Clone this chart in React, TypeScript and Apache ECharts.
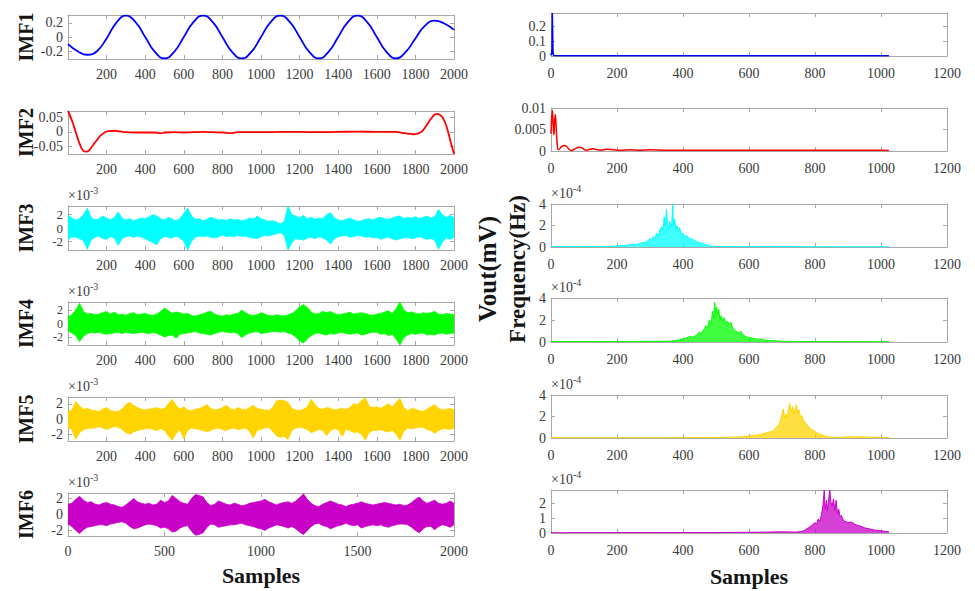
import React, { useEffect, useRef } from "react";
import * as echarts from "echarts";

// ---------------- DATA ----------------
// Left column: time-domain IMFs over samples 0..2000
const IMF1_STEP = 50;
const imf1 = [
  -0.1, -0.2, -0.25, -0.2, -0.02, 0.2, 0.3, 0.21, 0.0, -0.21,
  -0.3, -0.21, 0.0, 0.21, 0.3, 0.21, 0.0, -0.21, -0.3, -0.21,
  0.0, 0.21, 0.3, 0.21, 0.0, -0.21, -0.3, -0.21, 0.0, 0.21,
  0.3, 0.21, 0.0, -0.21, -0.3, -0.21, -0.02, 0.16, 0.23, 0.19,
  0.1,
];

const imf2: [number, number][] = [
  [0, 0.072], [20, 0.04], [40, 0.0], [60, -0.04], [80, -0.065], [95, -0.068], [110, -0.063],
  [130, -0.045], [150, -0.028], [170, -0.012], [190, -0.002], [210, 0.003], [240, 0.004],
  [270, 0.002], [300, -0.001], [350, -0.002], [400, -0.002], [450, -0.002], [480, -0.005],
  [500, -0.002], [550, -0.001], [600, -0.002], [650, -0.001], [700, 0.0], [750, -0.001],
  [800, -0.002], [850, -0.004], [880, -0.001], [950, -0.001], [1000, -0.001], [1100, 0.0],
  [1200, 0.0], [1300, -0.001], [1400, 0.0], [1500, 0.001], [1600, 0.0], [1700, 0.0],
  [1730, -0.003], [1760, -0.006], [1790, -0.008], [1810, -0.006], [1830, 0.0], [1850, 0.015],
  [1870, 0.035], [1890, 0.053], [1910, 0.062], [1925, 0.06], [1945, 0.045], [1965, 0.01],
  [1985, -0.04], [2000, -0.076],
];

// Envelopes (x10^-3) of the dense IMF3..IMF6 signals, one value every 20 samples
const ENV_STEP = 20;
const imf3Upper = [
  2.0, 1.5, 1.2, 1.4, 2.0, 3.0, 1.6, 1.2, 1.4, 1.8,
  1.5, 1.2, 1.6, 2.4, 1.5, 1.2, 1.4, 1.1, 1.3, 1.5,
  1.4, 1.7, 2.0, 1.8, 1.4, 1.2, 1.6, 1.3, 1.1, 1.4,
  2.2, 3.0, 1.8, 1.3, 1.4, 1.1, 1.3, 1.6, 1.4, 1.2,
  1.3, 1.1, 1.4, 1.2, 1.3, 1.1, 1.2, 1.5, 1.3, 1.8,
  1.4, 1.2, 1.0, 1.1, 0.9, 0.6, 1.0, 3.3, 2.0, 1.8,
  1.5, 1.9, 1.4, 1.6, 1.3, 1.5, 1.4, 2.0, 2.3, 1.5,
  1.2, 1.1, 1.3, 1.5, 1.2, 1.0, 1.1, 1.3, 1.4, 1.2,
  1.5, 1.6, 1.4, 1.3, 1.5, 1.7, 1.8, 1.4, 1.6, 1.5,
  1.7, 1.4, 1.6, 1.8, 1.5, 1.7, 2.8, 2.0, 1.6, 1.9,
  1.5,
];
const imf3Lower = [
  -1.8, -1.3, -1.4, -1.6, -1.9, -3.2, -1.8, -1.4, -1.2, -1.6,
  -1.7, -1.3, -1.5, -2.6, -1.6, -1.3, -1.2, -1.4, -1.2, -1.4,
  -1.6, -1.9, -2.2, -2.5, -1.6, -1.3, -1.4, -1.5, -1.2, -1.5,
  -2.0, -3.3, -2.0, -1.4, -1.2, -1.3, -1.2, -1.4, -1.5, -1.3,
  -1.1, -1.3, -1.2, -1.3, -1.1, -1.3, -1.2, -1.4, -1.5, -1.6,
  -1.3, -1.1, -1.2, -1.0, -0.9, -0.7, -1.1, -3.3, -2.2, -1.6,
  -1.7, -1.8, -1.5, -1.4, -1.6, -1.3, -1.5, -1.8, -2.4, -1.6,
  -1.3, -1.2, -1.1, -1.4, -1.3, -1.1, -1.2, -1.4, -1.3, -1.5,
  -1.4, -1.7, -1.5, -1.4, -1.6, -1.8, -1.6, -1.5, -1.4, -1.6,
  -1.5, -1.3, -1.5, -1.7, -1.6, -1.8, -3.2, -2.1, -1.5, -1.7,
  -1.4,
];
const imf4Upper = [
  1.0, 1.3, 2.0, 3.0, 1.8, 1.4, 1.5, 1.3, 1.4, 1.6,
  1.8, 1.4, 1.7, 1.3, 1.4, 1.2, 1.5, 1.6, 1.3, 1.4,
  1.5, 1.3, 1.2, 1.4, 1.8, 2.3, 1.9, 1.5, 1.7, 1.6,
  1.4, 1.5, 1.2, 1.1, 1.3, 1.4, 1.7, 1.8, 1.4, 1.2,
  1.1, 1.3, 1.2, 1.4, 1.5, 2.0, 1.6, 1.3, 1.2, 1.3,
  1.6, 1.4, 1.2, 1.1, 1.3, 1.2, 1.1, 1.3, 1.5, 1.9,
  2.5, 2.8, 2.4, 1.7, 1.4, 1.5, 1.8, 1.6, 1.8, 1.5,
  1.3, 1.4, 1.5, 1.7, 1.4, 1.5, 1.6, 1.5, 1.3, 1.2,
  1.4, 1.5, 1.7, 1.9, 1.5, 2.2, 3.2, 2.0, 1.6, 1.7,
  1.5, 1.4, 1.6, 1.5, 1.6, 1.8, 1.4, 1.3, 1.5, 1.4,
  1.3,
];
const imf4Lower = [
  -1.1, -1.4, -1.8, -2.7, -1.9, -1.5, -1.3, -1.4, -1.3, -1.5,
  -1.6, -1.5, -1.4, -1.3, -1.5, -1.3, -1.4, -1.5, -1.4, -1.3,
  -1.4, -1.5, -1.3, -1.5, -1.7, -2.0, -1.8, -1.7, -2.2, -1.6,
  -1.5, -1.4, -1.3, -1.2, -1.4, -1.5, -1.6, -1.7, -1.5, -1.3,
  -1.2, -1.3, -1.4, -1.3, -1.5, -2.1, -1.7, -1.4, -1.3, -1.2,
  -1.5, -1.4, -1.3, -1.2, -1.2, -1.3, -1.2, -1.4, -1.6, -2.0,
  -2.6, -2.9, -2.3, -1.8, -1.5, -1.4, -1.6, -1.7, -1.5, -1.6,
  -1.4, -1.3, -1.5, -1.6, -1.5, -1.4, -1.7, -1.6, -1.4, -1.3,
  -1.3, -1.6, -1.5, -1.8, -1.6, -2.3, -3.2, -2.1, -1.7, -1.5,
  -1.6, -1.5, -1.4, -1.7, -1.6, -1.7, -1.5, -1.4, -1.6, -1.5,
  -1.4,
];
const imf5Upper = [
  1.0, 1.2, 2.3, 1.7, 1.3, 1.4, 1.2, 1.1, 1.0, 1.3,
  1.5, 1.1, 1.0, 1.0, 1.3, 1.9, 2.2, 1.8, 1.5, 1.3,
  1.2, 1.3, 1.4, 1.5, 1.3, 1.4, 2.0, 2.6, 1.8, 1.3,
  1.6, 1.2, 1.1, 1.3, 1.4, 1.6, 1.9, 1.4, 1.2, 1.3,
  1.5, 1.8, 1.4, 1.2, 1.5, 1.3, 1.2, 1.5, 1.8, 1.4,
  1.3, 1.2, 1.1, 1.5, 2.4, 2.5, 2.4, 2.2, 1.4, 1.2,
  1.1, 1.3, 1.6, 2.6, 1.9, 1.4, 1.3, 1.5, 1.4, 1.2,
  1.3, 1.4, 1.3, 1.5, 2.0, 1.9, 2.4, 2.8, 1.7, 1.5,
  1.6, 1.4, 1.7, 2.0, 1.6, 2.2, 2.7, 1.5, 1.1, 1.4,
  1.3, 1.1, 1.0, 1.3, 1.6, 1.9, 1.4, 1.2, 1.3, 1.4,
  1.2,
];
const imf5Lower = [
  -1.1, -1.4, -2.7, -1.8, -1.4, -1.3, -1.2, -1.2, -1.0, -1.2,
  -1.4, -1.2, -1.0, -1.1, -1.4, -1.8, -2.0, -1.7, -1.5, -1.4,
  -1.3, -1.2, -1.4, -1.5, -1.3, -1.5, -2.2, -2.8, -1.9, -1.4,
  -2.6, -1.5, -1.2, -1.3, -1.4, -1.5, -1.7, -1.5, -1.3, -1.2,
  -1.4, -1.5, -1.3, -1.2, -1.4, -1.3, -1.2, -1.6, -2.5, -1.5,
  -1.4, -1.2, -1.1, -1.6, -2.2, -2.4, -2.3, -2.7, -1.5, -1.2,
  -1.1, -1.2, -1.4, -1.8, -1.6, -1.4, -1.5, -2.2, -1.5, -1.3,
  -1.4, -2.3, -1.4, -1.5, -1.8, -1.7, -2.0, -2.8, -1.8, -1.5,
  -1.5, -1.4, -1.6, -1.7, -1.5, -2.0, -2.8, -1.6, -1.2, -1.3,
  -1.2, -1.1, -1.1, -1.4, -1.5, -1.9, -1.5, -1.3, -1.3, -1.4,
  -1.2,
];
const imf6Upper = [
  1.3, 1.4, 1.9, 2.3, 1.8, 1.5, 1.6, 1.3, 1.2, 1.4,
  1.5, 1.3, 1.2, 1.0, 0.9, 1.2, 1.6, 2.0, 1.6, 1.4,
  1.3, 1.4, 1.2, 1.3, 1.8, 1.5, 1.7, 2.4, 2.0, 1.6,
  1.4, 1.3, 2.0, 2.5, 2.4, 2.2, 1.5, 1.1, 1.3, 1.7,
  1.5, 1.3, 1.2, 1.4, 1.3, 1.1, 1.2, 1.4, 1.5, 1.6,
  1.7, 1.9, 1.6, 1.4, 1.2, 1.4, 1.5, 1.6, 1.4, 1.7,
  2.1, 2.6, 1.9, 1.4, 1.1, 1.0, 1.3, 1.5, 1.7, 1.5,
  1.3, 1.2, 1.0, 1.2, 1.3, 1.4, 1.6, 1.4, 1.3, 1.2,
  1.3, 1.4, 1.5, 1.4, 1.3, 1.2, 1.3, 1.1, 1.2, 1.5,
  1.9, 2.2, 1.7, 1.4, 1.6, 1.8, 1.4, 1.3, 1.4, 1.7,
  1.4,
];
const imf6Lower = [
  -1.2, -1.5, -2.0, -2.4, -1.9, -1.6, -1.5, -1.4, -1.3, -1.3,
  -1.4, -1.2, -1.1, -1.0, -0.9, -1.1, -1.5, -1.8, -1.7, -1.5,
  -1.3, -1.2, -1.3, -1.4, -1.7, -1.6, -1.8, -2.2, -2.1, -1.7,
  -1.5, -1.4, -2.1, -2.6, -2.5, -2.3, -1.6, -1.2, -1.3, -1.6,
  -1.5, -1.4, -1.3, -1.3, -1.2, -1.1, -1.3, -1.4, -1.5, -1.7,
  -1.8, -2.0, -1.7, -1.5, -1.3, -1.4, -1.5, -1.7, -1.5, -1.8,
  -2.2, -2.5, -2.0, -1.5, -1.2, -1.1, -1.4, -1.5, -1.8, -1.6,
  -1.4, -1.3, -1.1, -1.3, -1.4, -1.3, -1.7, -1.5, -1.4, -1.3,
  -1.4, -1.3, -1.5, -1.6, -1.4, -1.3, -1.2, -1.2, -1.3, -1.6,
  -2.0, -2.3, -1.8, -1.5, -1.5, -1.9, -1.5, -1.3, -1.4, -1.6,
  -1.3,
];

// Right column: spectra over 0..1024
const spec1: [number, number][] = [
  [0, 0.004], [1, 0.02], [2, 0.01], [3, 0.05], [4, 0.29], [5, 0.29], [6, 0.04], [7, 0.01],
  [9, 0.003], [20, 0.002], [100, 0.001], [1024, 0.001],
];
const spec2: [number, number][] = [
  [0, 0.004], [2, 0.0075], [4, 0.0095], [6, 0.007], [8, 0.0045], [9, 0.0038], [11, 0.007],
  [13, 0.0085], [15, 0.0065], [18, 0.0025], [22, 0.0003], [27, 0.0006], [33, 0.0011],
  [40, 0.0013], [47, 0.0011], [55, 0.0004], [62, 0.0001], [70, 0.0004], [80, 0.0008],
  [88, 0.0009], [96, 0.0006], [105, 0.0002], [115, 0.0003], [125, 0.0005], [135, 0.0004],
  [150, 0.0002], [170, 0.0004], [190, 0.0003], [210, 0.0002], [240, 0.0003], [270, 0.0002],
  [300, 0.0003], [350, 0.0002], [400, 0.0002], [500, 0.0002], [600, 0.00015], [700, 0.0002],
  [800, 0.00015], [900, 0.0002], [1000, 0.00015], [1024, 0.0001],
];
const spec3: [number, number][] = [
  [0, 0.05], [100, 0.05], [180, 0.06], [200, 0.1], [220, 0.12], [240, 0.2], [250, 0.25],
  [260, 0.22], [270, 0.35], [280, 0.4], [290, 0.5], [300, 0.8], [305, 0.6], [310, 1.0],
  [315, 0.8], [320, 1.3], [325, 1.0], [330, 1.6], [335, 1.9], [340, 1.5], [343, 2.8],
  [346, 2.0], [350, 3.5], [353, 2.2], [356, 1.6], [360, 2.4], [363, 1.8], [366, 2.2],
  [369, 4.0], [371, 2.0], [375, 2.6], [378, 1.6], [382, 2.0], [386, 1.4], [390, 1.8],
  [395, 1.1], [400, 1.3], [405, 0.9], [410, 1.1], [420, 0.8], [430, 0.7], [440, 0.5],
  [450, 0.4], [460, 0.35], [470, 0.2], [480, 0.1], [500, 0.05], [600, 0.03], [1024, 0.02],
];
const spec4: [number, number][] = [
  [0, 0.04], [200, 0.05], [350, 0.06], [370, 0.1], [390, 0.2], [400, 0.3], [410, 0.35],
  [420, 0.5], [430, 0.45], [440, 0.6], [450, 0.9], [455, 0.7], [460, 1.0], [465, 1.2],
  [470, 1.5], [475, 1.3], [480, 2.0], [485, 1.7], [490, 2.8], [493, 2.2], [496, 3.6],
  [499, 2.6], [502, 3.2], [505, 2.4], [508, 3.0], [512, 2.0], [516, 2.4], [520, 1.9],
  [525, 2.2], [530, 1.7], [535, 1.9], [540, 1.6], [545, 1.8], [550, 1.3], [555, 1.1],
  [560, 1.0], [570, 0.8], [575, 1.0], [580, 0.7], [590, 0.5], [600, 0.4], [620, 0.3],
  [640, 0.2], [660, 0.15], [700, 0.06], [800, 0.04], [1024, 0.03],
];
const spec5: [number, number][] = [
  [0, 0.03], [300, 0.03], [500, 0.04], [550, 0.08], [580, 0.12], [600, 0.18], [620, 0.25],
  [640, 0.35], [660, 0.55], [670, 0.6], [680, 0.9], [690, 1.2], [695, 1.6], [700, 2.2],
  [704, 2.7], [708, 1.8], [712, 2.2], [716, 1.9], [720, 2.8], [724, 3.2], [728, 2.4],
  [732, 2.9], [736, 2.2], [740, 2.7], [744, 3.1], [748, 2.3], [752, 2.6], [756, 1.9],
  [760, 2.1], [765, 1.6], [770, 1.5], [775, 1.2], [780, 1.1], [790, 0.8], [800, 0.6],
  [810, 0.4], [820, 0.3], [830, 0.18], [840, 0.1], [860, 0.05], [880, 0.06], [900, 0.12],
  [920, 0.1], [940, 0.12], [960, 0.08], [1000, 0.06], [1024, 0.05],
];
const spec6: [number, number][] = [
  [0, 0.02], [300, 0.03], [500, 0.03], [600, 0.05], [650, 0.06], [700, 0.08], [740, 0.06],
  [760, 0.1], [770, 0.2], [780, 0.35], [790, 0.5], [800, 0.7], [805, 0.6], [810, 0.95],
  [815, 0.8], [820, 1.3], [824, 1.8], [828, 2.9], [831, 1.6], [835, 2.2], [838, 1.5],
  [842, 2.4], [845, 2.9], [848, 2.1], [852, 1.8], [856, 2.3], [860, 1.5], [864, 2.2],
  [868, 1.3], [872, 1.6], [876, 1.1], [880, 1.2], [885, 0.9], [890, 0.8], [900, 0.7],
  [910, 0.75], [920, 0.6], [930, 0.5], [940, 0.45], [950, 0.35], [960, 0.3], [970, 0.25],
  [980, 0.2], [1000, 0.15], [1010, 0.12], [1024, 0.08],
];

// Tick labels
const leftXTicks = [200, 400, 600, 800, 1000, 1200, 1400, 1600, 1800, 2000];
const leftBottomXTicks = [0, 500, 1000, 1500, 2000];
const rightXTicks = [0, 200, 400, 600, 800, 1000, 1200];
const imfNames = ["IMF1", "IMF2", "IMF3", "IMF4", "IMF5", "IMF6"];
const leftYTicks = [[-0.2, 0, 0.2], [-0.05, 0, 0.05], [-2, 0, 2], [-2, 0, 2], [-2, 0, 2], [-2, 0, 2]];
const leftYRange = [[-0.31, 0.31], [-0.076, 0.072], [-3.3, 3.3], [-3.2, 3.2], [-2.9, 2.9], [-2.7, 2.7]];
const rightYTicks = [[0, 0.1, 0.2], [0, 0.005, 0.01], [0, 2, 4], [0, 2, 4], [0, 2, 4], [0, 1, 2]];
const rightYRange = [[0, 0.29], [0, 0.01], [0, 4], [0, 4], [0, 4], [0, 2.9]];
const leftExp = ["", "", "-3", "-3", "-3", "-3"];
const rightExp = ["", "", "-4", "-4", "-4", "-4"];
const colors = ["#0000ff", "#ff0000", "#00ffff", "#00ff00", "#ffd400", "#c800c8"];

// ---------------- LAYOUT ----------------
const LEFT_X = 68;
const LEFT_W = 386;
const RIGHT_X = 551;
const RIGHT_W = 396;
const leftTops = [15, 111, 206, 302, 397, 493];
const leftHeights = [44, 43, 44, 43, 44, 43];
const rightTops = [13, 108, 204, 298, 395, 490];
const rightHeights = [43, 43, 43, 44, 43, 43];
const leftYFont = [14, 14, 13, 12, 14, 14];

const FONT = "'Liberation Serif', 'Times New Roman', serif";
const AXIS_COLOR = "#a8a8a8";
const LABEL_COLOR = "#3a3a3a";
const TITLE_COLOR = "#151515";

const fmt = (v: number) => String(+Number(v).toFixed(6));

function buildOption() {
  const grid: any[] = [];
  const xAxis: any[] = [];
  const yAxis: any[] = [];
  const series: any[] = [];
  const graphic: any[] = [];

  // returns [xAxisIndex, yAxisIndex] of the axes the series should use
  const addPanel = (
    left: number, top: number, width: number, height: number,
    xMin: number, xMax: number, xTicks: number[], xMargin: number,
    yMin: number, yMax: number, yTicks: number[], exp: string, yFont: number,
  ): [number, number] => {
    const gi = grid.length;
    grid.push({ left, top, width, height, containLabel: false, show: false });
    const lineStyle = { color: AXIS_COLOR, width: 1 };
    const yLabelStyle = {
      show: true, color: LABEL_COLOR, fontFamily: FONT, fontSize: yFont, lineHeight: 11, margin: 5,
      formatter: fmt, hideOverlap: false, showMinLabel: true, showMaxLabel: true,
    };
    const baseX = {
      type: "value", gridIndex: gi, min: xMin, max: xMax,
      splitLine: { show: false },
      axisLine: { show: true, onZero: false, lineStyle },
    };
    const xi = xAxis.length;
    xAxis.push({
      ...baseX, position: "bottom",
      axisTick: { show: true, inside: true, length: 4, lineStyle, customValues: xTicks },
      axisLabel: {
        show: true, customValues: xTicks, color: LABEL_COLOR, fontFamily: FONT,
        fontSize: 14, margin: xMargin, formatter: fmt, hideOverlap: false,
        showMinLabel: true, showMaxLabel: true,
      },
    });
    xAxis.push({
      ...baseX, position: "top",
      axisTick: { show: true, inside: true, length: 4, lineStyle, customValues: xTicks },
      axisLabel: { show: false },
    });
    const baseY = {
      type: "value", gridIndex: gi, min: yMin, max: yMax,
      splitLine: { show: false },
      axisLine: { show: true, onZero: false, lineStyle },
      axisTick: { show: true, inside: true, length: 4, lineStyle, customValues: yTicks },
    };
    const yi = yAxis.length;
    // outer tick labels on the main left axis
    yAxis.push({
      ...baseY, position: "left",
      axisLabel: { ...yLabelStyle, customValues: [yTicks[0], yTicks[yTicks.length - 1]] },
      ...(exp
        ? {
            name: `{b|×10}{s|${exp}}`,
            nameLocation: "end",
            nameGap: 1,
            nameTextStyle: {
              align: "left",
              verticalAlign: "bottom",
              rich: {
                b: { fontSize: 14, fontFamily: FONT, color: LABEL_COLOR, lineHeight: 20 },
                s: { fontSize: 10, fontFamily: FONT, color: LABEL_COLOR, lineHeight: 10, verticalAlign: "top" },
              },
            },
          }
        : {}),
    });
    // middle tick label on an overlaid axis (the panels are too short for the library
    // to keep three labels on one axis)
    yAxis.push({
      type: "value", gridIndex: gi, min: yMin, max: yMax, position: "left",
      splitLine: { show: false }, axisLine: { show: false }, axisTick: { show: false },
      axisLabel: { ...yLabelStyle, customValues: yTicks.slice(1, yTicks.length - 1) },
    });
    yAxis.push({ ...baseY, position: "right", axisLabel: { show: false } });
    return [xi, yi];
  };

  const imf1Data = imf1.map((v, i) => [i * IMF1_STEP, v]);
  const bands: [number[], number[]][] = [
    [imf3Upper, imf3Lower], [imf4Upper, imf4Lower], [imf5Upper, imf5Lower], [imf6Upper, imf6Lower],
  ];
  const spectra = [spec1, spec2, spec3, spec4, spec5, spec6];

  for (let k = 0; k < 6; k++) {
    const isBottom = k === 5;
    const [xi, yi] = addPanel(
      LEFT_X, leftTops[k], LEFT_W, leftHeights[k],
      0, 2000, isBottom ? leftBottomXTicks : leftXTicks, 8,
      leftYRange[k][0], leftYRange[k][1], leftYTicks[k], leftExp[k], leftYFont[k],
    );
    const axisRef = { xAxisIndex: xi, yAxisIndex: yi };
    if (k === 0 || k === 1) {
      series.push({
        type: "line", ...axisRef, data: k === 0 ? imf1Data : imf2, smooth: true,
        symbol: "none", lineStyle: { color: colors[k], width: 1.8 }, itemStyle: { color: colors[k] },
      });
    } else {
      // dense oscillation drawn as the band between its upper and lower envelope;
      // the two fills overlap a little around zero so no seam shows
      const [up, lo] = bands[k - 2];
      const parts: [number[], number][] = [[up, -0.5], [lo, 0.5]];
      for (const [arr, origin] of parts) {
        series.push({
          type: "line", ...axisRef,
          data: arr.map((v, i) => [i * ENV_STEP, v]), symbol: "none",
          lineStyle: { color: colors[k], width: 0.8 }, itemStyle: { color: colors[k] },
          areaStyle: { color: colors[k], opacity: 1, origin },
        });
      }
    }
    graphic.push({
      type: "text", x: 26, y: leftTops[k] + leftHeights[k] / 2, rotation: Math.PI / 2,
      style: {
        text: imfNames[k], fill: TITLE_COLOR, font: `bold 20px ${FONT}`,
        align: "center", verticalAlign: "middle", textAlign: "center", textVerticalAlign: "middle",
      },
    });
  }

  for (let k = 0; k < 6; k++) {
    const [xi, yi] = addPanel(
      RIGHT_X, rightTops[k], RIGHT_W, rightHeights[k],
      0, 1200, rightXTicks, 10,
      rightYRange[k][0], rightYRange[k][1], rightYTicks[k], rightExp[k], 14,
    );
    series.push({
      type: "line", xAxisIndex: xi, yAxisIndex: yi, data: spectra[k], symbol: "none",
      smooth: k === 1 ? 0.4 : false,
      lineStyle: { color: colors[k], width: k < 2 ? 1.5 : 1 },
      itemStyle: { color: colors[k] },
      ...(k >= 2 ? { areaStyle: { color: colors[k], opacity: 0.75 } } : {}),
    });
  }

  const rotText = (text: string, x: number, y: number, size: number) => ({
    type: "text", x, y, rotation: Math.PI / 2,
    style: {
      text, fill: TITLE_COLOR, font: `bold ${size}px ${FONT}`,
      align: "center", verticalAlign: "middle", textAlign: "center", textVerticalAlign: "middle",
    },
  });
  graphic.push(rotText("Vout(mV)", 487, 269, 25));
  graphic.push(rotText("Frequency(Hz)", 517, 269, 23));
  const flatText = (text: string, x: number, y: number) => ({
    type: "text", x, y,
    style: {
      text, fill: TITLE_COLOR, font: `bold 22px ${FONT}`,
      align: "center", verticalAlign: "middle", textAlign: "center", textVerticalAlign: "middle",
    },
  });
  graphic.push(flatText("Samples", 261, 575));
  graphic.push(flatText("Samples", 749, 576));

  return {
    animation: false,
    backgroundColor: "#ffffff",
    grid, xAxis, yAxis, series, graphic,
  };
}

export default function App() {
  const ref = useRef<HTMLDivElement>(null);
  useEffect(() => {
    document.body.style.margin = "0";
    if (!ref.current) return;
    const chart = echarts.init(ref.current, undefined, { renderer: "svg" });
    chart.setOption(buildOption() as any);
    return () => chart.dispose();
  }, []);
  return <div ref={ref} style={{ width: 975, height: 591 }} />;
}
